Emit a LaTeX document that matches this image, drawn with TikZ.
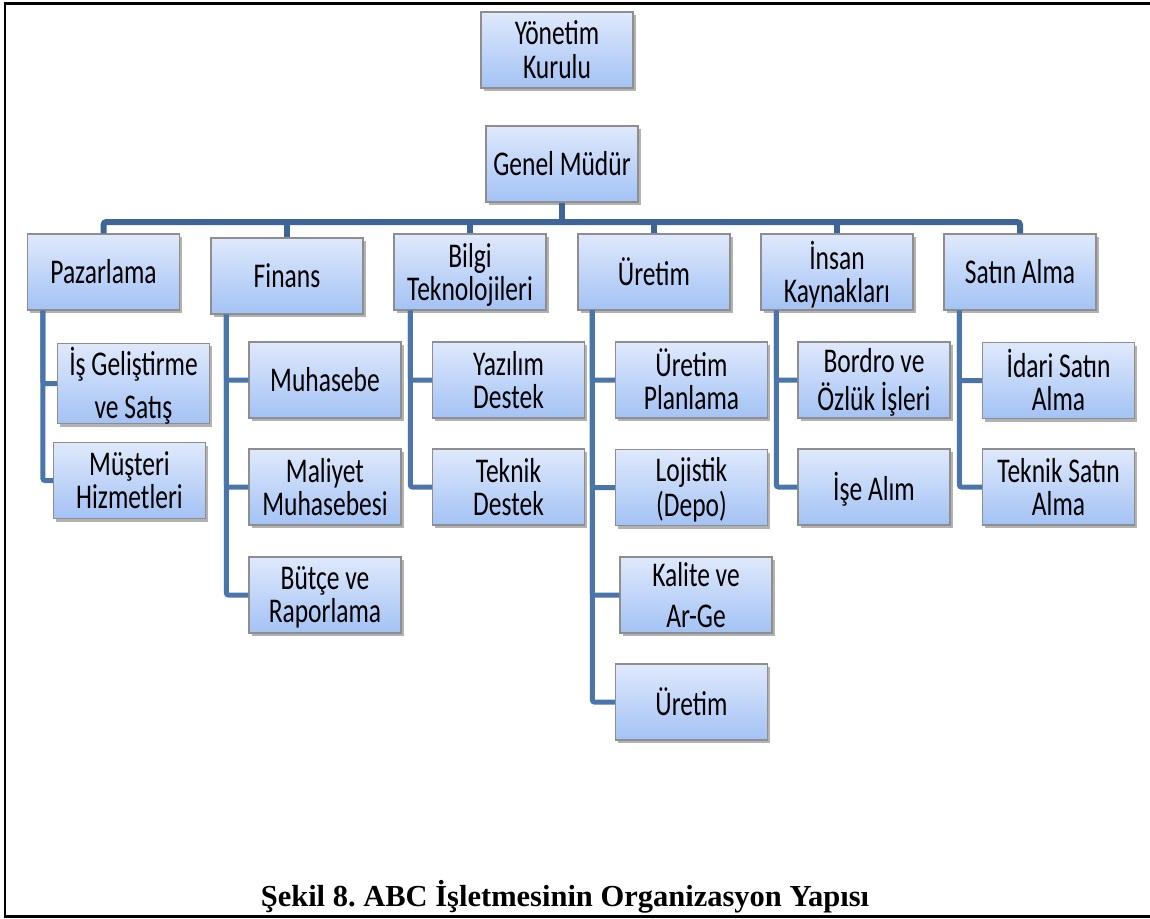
\documentclass[tikz,border=0pt]{standalone}
\usepackage{fontspec}
\usepackage{graphicx}
\setmainfont{Carlito}
\newfontfamily\capfont{Liberation Serif}
\usetikzlibrary{shadows}
\definecolor{boxtop}{HTML}{DFE9FC}
\definecolor{boxbot}{HTML}{A3C2F4}
\definecolor{boxline}{HTML}{8E8E8E}
\definecolor{buscol}{HTML}{3E6596}
\definecolor{spinecol}{HTML}{4A75AA}
\newcommand{\tx}[1]{\raisebox{-4pt}[\height][\depth]{\scalebox{1}[1.36]{\begin{tabular}{@{}c@{}}#1\end{tabular}}}}
\frenchspacing
\begin{document}
\begin{tikzpicture}[x=1pt,y=-1pt,
  orgbox/.style={rectangle, minimum width=152pt, minimum height=76pt,
    top color=boxtop, bottom color=boxbot, draw=boxline, line width=1.2pt,
    align=center, inner sep=0pt,
    font=\fontsize{25.5pt}{22pt}\selectfont,
    drop shadow={shadow xshift=2.5pt, shadow yshift=-3pt, opacity=0.3, fill=black}},
  bus/.style={draw=buscol, line width=6pt, rounded corners=3pt},
  spine/.style={draw=spinecol, line width=5pt, rounded corners=2pt}]
\useasboundingbox (0,0) rectangle (1150,918);
% frame
\draw[line width=2.5pt] (1150,3.3) -- (5,3.3) -- (5,916.5) -- (1150,916.5);

% top nodes
\node[orgbox] (yk) at (557,50) {\tx{Yönetim\\Kurulu}};
\node[orgbox] (gm) at (562,164) {\tx{Genel Müdür}};

% departments
\node[orgbox] (paz) at (103.5,272) {\tx{Pazarlama}};
\node[orgbox] (fin) at (287,276) {\tx{Finans}};
\node[orgbox] (bt) at (470,272) {\tx{Bilgi\\Teknolojileri}};
\node[orgbox] (ur) at (654,272) {\tx{Üretim}};
\node[orgbox] (ik) at (837,272) {\tx{İnsan\\Kaynakları}};
\node[orgbox] (sa) at (1020,272) {\tx{Satın Alma}};

% bus
\coordinate (busy) at (0,222);
\draw[bus] (paz.north) -- (paz.north |- busy) -- (sa.north |- busy) -- (sa.north);
\draw[bus] (gm.south) -- (gm.south |- busy);
\draw[bus] (fin.north) -- (fin.north |- busy);
\draw[bus] (bt.north) -- (bt.north |- busy);
\draw[bus] (ur.north) -- (ur.north |- busy);
\draw[bus] (ik.north) -- (ik.north |- busy);

% spine start points
\coordinate (pazs) at ([xshift=16pt]paz.south west);
\coordinate (fins) at ([xshift=16pt]fin.south west);
\coordinate (bts) at ([xshift=17pt]bt.south west);
\coordinate (urs) at ([xshift=15pt]ur.south west);
\coordinate (iks) at ([xshift=16pt]ik.south west);
\coordinate (sas) at ([xshift=16pt]sa.south west);

% children
\node[orgbox] (isg) at (133.5,383.5) {\tx{İş Geliştirme\\[8.5pt]ve Satış}};
\node[orgbox] (mus) at (129.5,480.5) {\tx{Müşteri\\Hizmetleri}};
\node[orgbox] (muh) at (325,380) {\tx{Muhasebe}};
\node[orgbox] (mal) at (325,487) {\tx{Maliyet\\Muhasebesi}};
\node[orgbox] (but) at (325,595) {\tx{Bütçe ve\\Raporlama}};
\node[orgbox] (yaz) at (508.5,380) {\tx{Yazılım\\Destek}};
\node[orgbox] (tek) at (508.5,487) {\tx{Teknik\\Destek}};
\node[orgbox] (upl) at (691.5,380) {\tx{Üretim\\Planlama}};
\node[orgbox] (loj) at (691.5,487.5) {\tx{Lojistik\\(Depo)}};
\node[orgbox] (kal) at (696,595) {\tx{Kalite ve\\[7pt]Ar-Ge}};
\node[orgbox] (ur2) at (691.5,702) {\tx{Üretim}};
\node[orgbox] (bor) at (874,380) {\tx{Bordro ve\\Özlük İşleri}};
\node[orgbox] (ise) at (874,487) {\tx{İşe Alım}};
\node[orgbox] (ida) at (1058.5,380.5) {\tx{İdari Satın\\Alma}};
\node[orgbox] (tsa) at (1058.5,487) {\tx{Teknik Satın\\Alma}};

% spine connectors
\draw[spine] (pazs) |- (isg.west);
\draw[spine] (pazs) |- (mus.west);
\draw[spine] (fins) |- (muh.west);
\draw[spine] (fins) |- (mal.west);
\draw[spine] (fins) |- (but.west);
\draw[spine] (bts) |- (yaz.west);
\draw[spine] (bts) |- (tek.west);
\draw[spine] (urs) |- (upl.west);
\draw[spine] (urs) |- (loj.west);
\draw[spine] (urs) |- (kal.west);
\draw[spine] (urs) |- (ur2.west);
\draw[spine] (iks) |- (bor.west);
\draw[spine] (iks) |- (ise.west);
\draw[spine] (sas) |- (ida.west);
\draw[spine] (sas) |- (tsa.west);

% caption
\node[anchor=base, font=\capfont\bfseries\fontsize{30.5pt}{34pt}\selectfont, inner sep=0pt] (cap) at (565,906) {Şekil 8. ABC İşletmesinin Organizasyon Yapısı};
\end{tikzpicture}
\end{document}
